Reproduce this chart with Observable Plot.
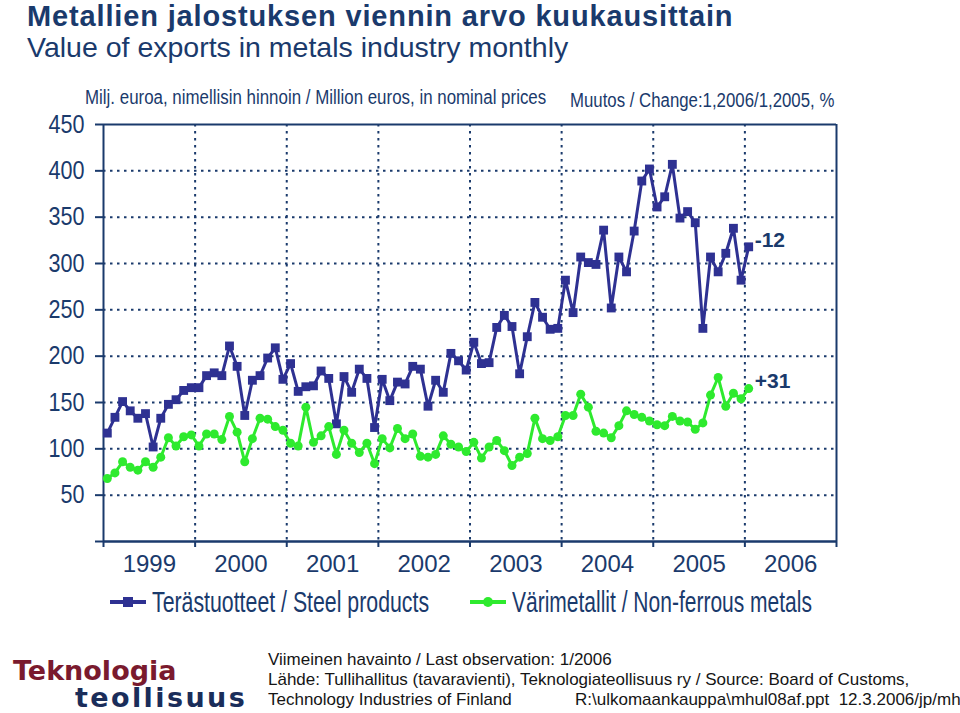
<!DOCTYPE html>
<html><head><meta charset="utf-8">
<script src="https://cdn.jsdelivr.net/npm/d3@7"></script>
<script src="https://cdn.jsdelivr.net/npm/@observablehq/plot@0.6"></script>
<style>
body{margin:0;background:#fff;}
#wrap{position:relative;width:960px;height:713px;overflow:hidden;font-family:"Liberation Sans",Arial,sans-serif;}
#wrap svg.plot{position:absolute;left:0;top:0;}
.abs{position:absolute;white-space:nowrap;line-height:1;}
.cond{display:inline-block;transform-origin:left center;}
</style></head><body><div id="wrap">
<div class="abs" style="left:27px;top:0px;line-height:normal;font-size:29px;letter-spacing:0.85px;font-weight:bold;color:#1a3a6c">Metallien jalostuksen viennin arvo kuukausittain</div>
<div class="abs" style="left:27px;top:33px;font-size:28.5px;color:#1a3a6c">Value of exports in metals industry monthly</div>
<div class="abs" style="left:85px;top:87px;font-size:20px;color:#1a3a6c"><span class="cond" style="transform:scaleX(0.845)">Milj. euroa, nimellisin hinnoin / Million euros, in nominal prices</span></div>
<div class="abs" style="left:570px;top:90px;font-size:20px;color:#1a3a6c"><span class="cond" style="transform:scaleX(0.84)">Muutos / Change:1,2006/1,2005, %</span></div>
<div id="legend"></div>
<div class="abs" style="left:13px;top:657px;font-size:27px;font-weight:bold;font-family:'DejaVu Sans',sans-serif;color:#7a1a2e">Teknologia</div>
<div class="abs" style="left:75px;top:684px;font-size:27px;font-weight:bold;font-family:'DejaVu Sans',sans-serif;color:#1a2d5a;letter-spacing:2.4px">teollisuus</div>
<div class="abs" style="left:268px;top:651px;font-size:17px;color:#151515">Viimeinen havainto / Last observation: 1/2006</div>
<div class="abs" style="left:268px;top:671px;font-size:17px;color:#151515">Lähde: Tullihallitus (tavaravienti), Teknologiateollisuus ry / Source: Board of Customs,</div>
<div class="abs" style="left:268px;top:691px;font-size:17px;color:#151515">Technology Industries of Finland</div>
<div class="abs" style="left:575px;top:691px;font-size:17px;color:#151515">R:\ulkomaankauppa\mhul08af.ppt&nbsp;&nbsp;12.3.2006/jp/mh</div>
</div>
<script>
const years = ["1999","2000","2001","2002","2003","2004","2005","2006"];
const seriesNames = ["Terästuotteet / Steel products", "Värimetallit / Non-ferrous metals"];
const steel = [117,134,151,141,133,138,102,133,148,153,163,166,
  166,179,182,179,211,189,136,174,179,198,209,175,
  192,162,167,168,184,176,127,178,161,186,176,123,
  175,152,172,170,189,186,146,174,161,203,195,185,
  215,192,193,231,244,232,181,221,258,242,229,230,
  282,247,307,301,299,336,252,307,291,335,389,402,
  361,372,407,349,356,344,230,307,291,311,338,282,
  318];
const nonferrous = [68,74,86,80,77,86,80,91,112,103,113,115,
  103,116,116,110,135,118,86,111,133,132,124,120,
  106,103,145,107,114,124,94,120,106,96,106,84,
  111,101,122,111,116,92,91,94,114,105,102,97,
  107,90,102,109,98,82,91,95,133,111,109,113,
  136,136,159,145,119,117,112,125,141,137,134,130,
  126,125,135,130,129,121,128,158,177,146,160,154,
  165];
const changes = ["-12", "+31"];
const yTicks = [0,50,100,150,200,250,300,350,400,450];

const NAVY = "#1a3a6c", BLUE = "#2e3192", GREEN = "#2eea2e";
const months = years.length * 12;
const steelData = steel.map((v, i) => ({m: i + 0.5, v}));
const nfData = nonferrous.map((v, i) => ({m: i + 0.5, v}));
const yearStarts = d3.range(0, months + 1, 12);
const yearMids = years.map((y, i) => i * 12 + 6);
const lastPts = [
  {m: steelData[steelData.length - 1].m, v: steel[steel.length - 1], t: changes[0]},
  {m: nfData[nfData.length - 1].m, v: nonferrous[nonferrous.length - 1], t: changes[1]}
];

const chart = Plot.plot({
  width: 960, height: 713,
  marginLeft: 103, marginRight: 124, marginTop: 124, marginBottom: 172,
  x: {domain: [0, months]},
  y: {domain: [0, 450]},
  style: {color: NAVY, background: "transparent", fontFamily: "'Liberation Sans',Arial,sans-serif"},
  marks: [
    Plot.ruleY(yTicks.filter(t => t > 0 && t < 450), {stroke: NAVY, strokeWidth: 2, strokeDasharray: "2.5,4.5"}),
    Plot.ruleX(yearStarts.filter(t => t > 0 && t < months), {stroke: NAVY, strokeWidth: 2, strokeDasharray: "2.5,4.5"}),
    Plot.ruleY([450], {stroke: NAVY, strokeWidth: 2}),
    Plot.ruleX([months], {stroke: NAVY, strokeWidth: 2}),
    Plot.ruleX([0], {stroke: NAVY, strokeWidth: 2}),
    Plot.ruleY([0], {stroke: NAVY, strokeWidth: 2.5}),
    Plot.axisY({ticks: yTicks, tickSize: 8, tickPadding: 11, tickFormat: d => d === 0 ? "" : d, fontSize: 26, strokeWidth: 2, label: null}),
    Plot.axisX({ticks: yearStarts, tickSize: 6, tickFormat: () => "", strokeWidth: 2, label: null}),
    Plot.axisX({ticks: yearMids, tickSize: 0, tickPadding: 13, tickFormat: d => years[(d - 6) / 12], fontSize: 24, label: null}),
    Plot.line(steelData, {x: "m", y: "v", stroke: BLUE, strokeWidth: 3}),
    Plot.dot(steelData, {x: "m", y: "v", symbol: "square", r: 5, fill: BLUE}),
    Plot.line(nfData, {x: "m", y: "v", stroke: GREEN, strokeWidth: 3}),
    Plot.dot(nfData, {x: "m", y: "v", symbol: "circle", r: 4.5, fill: GREEN}),
    Plot.text(lastPts, {x: "m", y: "v", text: "t", dx: 6, dy: -7, textAnchor: "start", fontSize: 21, fontWeight: "bold", fill: NAVY})
  ]
});
chart.classList.add("plot");
document.getElementById("wrap").prepend(chart);

// condense the y tick labels horizontally (the original uses a narrow face)
const yLabelSet = new Set(yTicks.filter(t => t > 0).map(String));
chart.querySelectorAll("text").forEach(el => {
  const txt = el.textContent;
  if (!yLabelSet.has(txt)) return;
  const len = el.getComputedTextLength();
  if (len > 0) {
    el.setAttribute("textLength", (len * 0.83).toFixed(1));
    el.setAttribute("lengthAdjust", "spacingAndGlyphs");
  }
});

// legend
const leg = document.getElementById("legend");
const items = [
  {name: seriesNames[0], color: BLUE, sym: "square", left: 110, sx: 0.71},
  {name: seriesNames[1], color: GREEN, sym: "circle", left: 470, sx: 0.70}
];
items.forEach(it => {
  const d = document.createElement("div");
  d.className = "abs";
  d.style.left = it.left + "px";
  d.style.top = "587px";
  d.style.display = "flex";
  d.style.alignItems = "center";
  const shape = it.sym === "square"
    ? `<rect x="13" y="3" width="10" height="10" fill="${it.color}"/>`
    : `<circle cx="18" cy="8" r="5" fill="${it.color}"/>`;
  d.innerHTML = `<svg width="36" height="16" style="margin-right:6px"><line x1="0" x2="36" y1="8" y2="8" stroke="${it.color}" stroke-width="4"/>${shape}</svg>` +
    `<span class="cond" style="font-size:30px;color:${NAVY};transform:scaleX(${it.sx})">${it.name}</span>`;
  leg.appendChild(d);
});
</script>
</body></html>
